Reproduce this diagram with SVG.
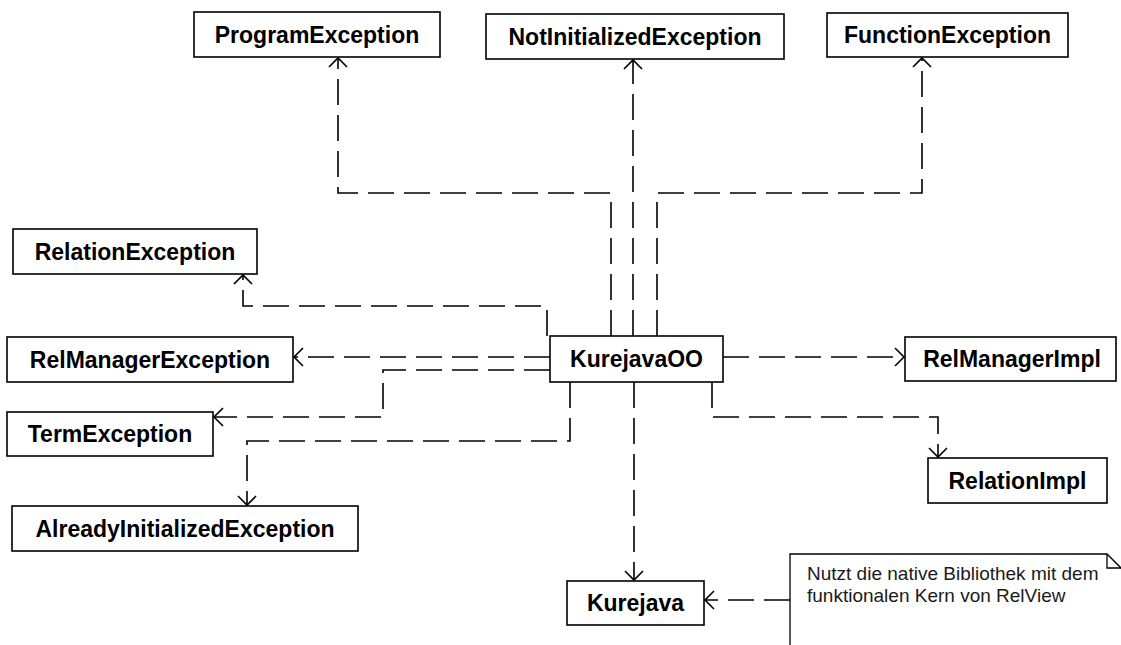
<svg xmlns="http://www.w3.org/2000/svg" width="1121" height="645" viewBox="0 0 1121 645">
  <style>
    .box { fill: #ffffff; stroke: #000000; stroke-width: 1.6; }
    .lbl { font-family: "Liberation Sans", Arial, sans-serif; font-weight: bold; font-size: 23px; fill: #000000; text-anchor: middle; }
    .dep { fill: none; stroke: #000000; stroke-width: 1.6; stroke-dasharray: 26 10; marker-end: url(#open); }
    .note { fill: #ffffff; stroke: #000000; stroke-width: 1.3; }
    .ntxt { font-family: "Liberation Sans", Arial, sans-serif; font-size: 19px; fill: #1a1a1a; }
  </style>
  <defs>
    <!-- open arrowhead for dependency arrows -->
    <marker id="open" markerUnits="userSpaceOnUse" markerWidth="24" markerHeight="24" viewBox="-12 -12 24 24" refX="0" refY="0" orient="auto" overflow="visible">
      <path d="M-9,-9 L0,0 L-9,9" fill="none" stroke="#000000" stroke-width="1.6"/>
    </marker>
  </defs>
  <rect width="1121" height="645" fill="#ffffff"/>

  <!-- dependency connectors -->
  <g id="connectors">
    <path class="dep" d="M611,336 V193 H338 V58"/>
    <path class="dep" d="M633,336 V60"/>
    <path class="dep" d="M657,336 V193 H922 V58"/>
    <path class="dep" d="M547,336 V306 H243 V275"/>
    <path class="dep" d="M550,357 H294"/>
    <path class="dep" d="M550,370 H383 V417 H214"/>
    <path class="dep" d="M570,382 V441 H247 V505"/>
    <path class="dep" d="M634,382 V580"/>
    <path class="dep" d="M712,382 V417 H938 V457"/>
    <path class="dep" d="M723,357 H904"/>
    <path class="dep" d="M790,600 H705"/>
  </g>

  <g id="ProgramException">
    <rect class="box" x="194" y="12" width="246" height="45"/>
    <text class="lbl" x="317" y="43">ProgramException</text>
  </g>
  <g id="NotInitializedException">
    <rect class="box" x="486" y="14" width="298" height="45"/>
    <text class="lbl" x="635" y="45">NotInitializedException</text>
  </g>
  <g id="FunctionException">
    <rect class="box" x="827" y="13" width="241" height="44"/>
    <text class="lbl" x="947.5" y="43">FunctionException</text>
  </g>
  <g id="RelationException">
    <rect class="box" x="13" y="229" width="244" height="45"/>
    <text class="lbl" x="135" y="260">RelationException</text>
  </g>
  <g id="RelManagerException">
    <rect class="box" x="7" y="337" width="286" height="45"/>
    <text class="lbl" x="150" y="368">RelManagerException</text>
  </g>
  <g id="KurejavaOO">
    <rect class="box" x="550" y="336" width="173" height="46"/>
    <text class="lbl" x="636.5" y="367">KurejavaOO</text>
  </g>
  <g id="RelManagerImpl">
    <rect class="box" x="905" y="337" width="211" height="44"/>
    <text class="lbl" x="1012" y="367">RelManagerImpl</text>
  </g>
  <g id="TermException">
    <rect class="box" x="7" y="412" width="206" height="44"/>
    <text class="lbl" x="110" y="442">TermException</text>
  </g>
  <g id="RelationImpl">
    <rect class="box" x="928" y="458" width="179" height="45"/>
    <text class="lbl" x="1017.5" y="489">RelationImpl</text>
  </g>
  <g id="AlreadyInitializedException">
    <rect class="box" x="12" y="506" width="346" height="45"/>
    <text class="lbl" x="185" y="537">AlreadyInitializedException</text>
  </g>
  <g id="Kurejava">
    <rect class="box" x="567" y="581" width="137" height="44"/>
    <text class="lbl" x="635.5" y="611">Kurejava</text>
  </g>

  <!-- comment note with folded corner -->
  <g id="note">
    <path class="note" d="M790,647 V554 H1107 L1122,569 V647"/>
    <path fill="none" stroke="#000000" stroke-width="1.3" d="M1107,554 V568 H1122"/>
    <text class="ntxt" x="807" y="580">Nutzt die native Bibliothek mit dem</text>
    <text class="ntxt" x="807" y="602">funktionalen Kern von RelView</text>
  </g>
</svg>
